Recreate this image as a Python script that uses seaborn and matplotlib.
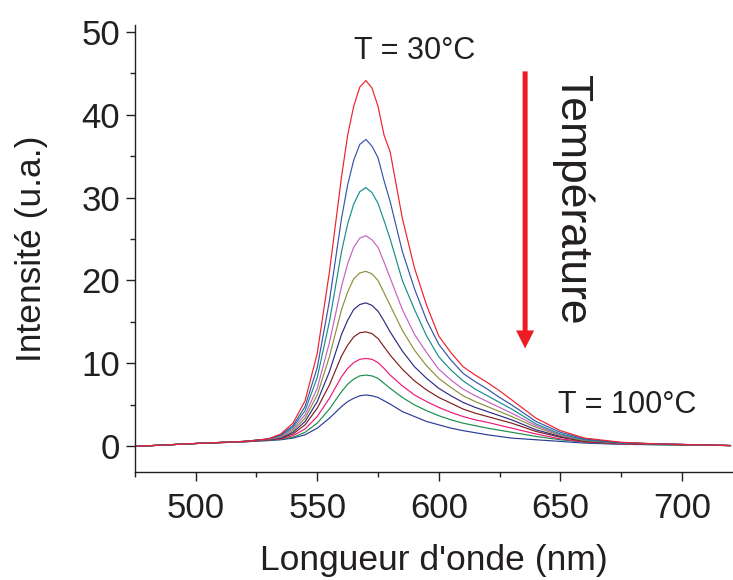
import matplotlib
matplotlib.use("Agg")
import matplotlib.pyplot as plt
import numpy as np
import pandas as pd
import seaborn as sns
from matplotlib.ticker import MultipleLocator

# wavelengths (nm) and intensities, 30 C -> 100 C
wavelength = [475, 500, 520, 530, 535, 540, 545, 550, 555, 560, 562.5, 565, 567.5, 570,
              572.5, 575, 577.5, 580, 585, 590, 595, 600, 605, 610, 615, 620, 625, 630,
              640, 650, 660, 675, 690, 705, 720]

red = [0.0, 0.35, 0.6, 0.9, 1.5, 2.8, 5.5, 11.2, 21.0, 32.5, 37.5, 41.0, 43.3, 44.1,
       43.2, 41.0, 37.5, 35.5, 27.5, 21.5, 17.0, 13.3, 11.3, 9.6, 8.6, 7.7, 6.7, 5.6,
       3.4, 1.9, 1.0, 0.5, 0.3, 0.2, 0.1]
blue = [0.0, 0.35, 0.6, 0.9, 1.4, 2.5, 4.8, 9.5, 17.5, 27.5, 31.5, 34.5, 36.4, 37.0,
        36.2, 34.8, 32.0, 29.5, 23.5, 19.0, 15.2, 12.3, 10.4, 8.8, 7.8, 6.9, 5.9, 5.0,
        3.0, 1.7, 0.9, 0.45, 0.3, 0.2, 0.1]
teal = [0.0, 0.35, 0.6, 0.9, 1.3, 2.3, 4.3, 8.3, 15.0, 23.5, 26.8, 29.2, 30.7, 31.2,
        30.6, 29.3, 27.2, 25.0, 20.0, 16.5, 13.3, 10.8, 9.2, 7.9, 6.9, 6.1, 5.3, 4.5,
        2.7, 1.5, 0.8, 0.4, 0.3, 0.2, 0.1]
magenta = [0.0, 0.35, 0.6, 0.9, 1.2, 2.1, 3.8, 7.0, 12.5, 19.3, 22.0, 24.0, 25.1, 25.4,
           24.9, 24.0, 22.2, 20.3, 16.5, 13.5, 11.3, 9.3, 8.0, 6.9, 6.1, 5.4, 4.7, 4.0,
           2.5, 1.4, 0.8, 0.4, 0.3, 0.2, 0.1]
olive = [0.0, 0.35, 0.6, 0.85, 1.1, 1.9, 3.4, 6.2, 10.8, 16.5, 18.6, 20.2, 20.9, 21.1,
         20.8, 20.0, 18.5, 17.0, 14.0, 11.6, 9.7, 8.2, 7.1, 6.1, 5.4, 4.8, 4.2, 3.6,
         2.3, 1.3, 0.7, 0.4, 0.3, 0.2, 0.1]
navy = [0.0, 0.35, 0.6, 0.85, 1.0, 1.7, 3.0, 5.4, 9.0, 13.5, 15.2, 16.5, 17.1, 17.3,
        17.0, 16.3, 15.1, 13.8, 11.5, 9.6, 8.2, 7.0, 6.1, 5.3, 4.7, 4.2, 3.7, 3.2,
        2.0, 1.2, 0.7, 0.4, 0.3, 0.2, 0.1]
maroon = [0.0, 0.35, 0.6, 0.8, 1.0, 1.5, 2.6, 4.6, 7.4, 10.9, 12.2, 13.2, 13.7, 13.8,
          13.6, 13.0, 12.0, 11.0, 9.3, 7.9, 6.8, 5.9, 5.2, 4.5, 4.0, 3.6, 3.2, 2.8,
          1.8, 1.1, 0.6, 0.35, 0.25, 0.2, 0.1]
pink = [0.0, 0.35, 0.55, 0.8, 0.9, 1.3, 2.1, 3.6, 5.8, 8.4, 9.4, 10.1, 10.5, 10.6,
        10.5, 10.1, 9.4, 8.6, 7.3, 6.2, 5.4, 4.7, 4.1, 3.6, 3.2, 2.9, 2.55, 2.2,
        1.5, 0.9, 0.55, 0.3, 0.25, 0.2, 0.1]
green = [0.0, 0.35, 0.55, 0.75, 0.85, 1.1, 1.7, 2.8, 4.5, 6.6, 7.5, 8.1, 8.5, 8.6,
         8.5, 8.2, 7.6, 7.0, 5.9, 5.0, 4.3, 3.7, 3.2, 2.8, 2.5, 2.2, 1.95, 1.7,
         1.2, 0.8, 0.5, 0.3, 0.2, 0.15, 0.1]
dkblue = [0.0, 0.35, 0.55, 0.7, 0.8, 1.0, 1.4, 2.2, 3.4, 4.8, 5.4, 5.8, 6.1, 6.2,
          6.1, 5.9, 5.5, 5.1, 4.2, 3.6, 3.0, 2.6, 2.2, 1.9, 1.65, 1.4, 1.2, 1.0,
          0.8, 0.6, 0.4, 0.25, 0.2, 0.15, 0.1]

series = {'red': red, 'blue': blue, 'teal': teal, 'magenta': magenta, 'olive': olive,
          'navy': navy, 'maroon': maroon, 'pink': pink, 'green': green, 'dkblue': dkblue}
colors = {'red': '#F0202A', 'blue': '#3555AA', 'teal': '#1A8C8C', 'magenta': '#C462C0',
          'olive': '#8E8E3E', 'navy': '#2C2C82', 'maroon': '#801C1C', 'pink': '#EE1878',
          'green': '#1C8C4C', 'dkblue': '#2A3C98'}

rows = []
for name, vals in series.items():
    for w, v in zip(wavelength, vals):
        rows.append({'wl': w, 'I': v, 'curve': name})
df = pd.DataFrame(rows)

sns.set_theme(style='ticks')
plt.rcParams['font.family'] = ['Liberation Sans', 'DejaVu Sans']
txt = '#231F20'

fig = plt.figure(figsize=(7.33, 5.8), dpi=100)
ax = fig.add_axes([0.184, 0.186, 0.816, 0.771])

# draw weakest first so the red one sits on top
order = list(series.keys())[::-1]
sns.lineplot(data=df, x='wl', y='I', hue='curve', hue_order=order, palette=colors,
             linewidth=0.85, legend=False, ax=ax)

ax.set_xlim(475, 721)
ax.set_ylim(-3.1, 50.8)
ax.xaxis.set_major_locator(MultipleLocator(50))
ax.xaxis.set_minor_locator(MultipleLocator(25))
ax.yaxis.set_major_locator(MultipleLocator(10))
ax.yaxis.set_minor_locator(MultipleLocator(5))
sns.despine(ax=ax)
for s in ['left', 'bottom']:
    ax.spines[s].set_linewidth(1.0)
    ax.spines[s].set_color(txt)
ax.tick_params(which='major', length=6.5, width=1.0, color=txt, labelsize=25,
               labelcolor=txt, pad=4)
ax.tick_params(axis='x', which='major', pad=7.5)
ax.tick_params(which='minor', length=3.6, width=1.0, color=txt)

ax.set_xlabel("Longueur d'onde (nm)", fontsize=25.5, color=txt, labelpad=14)
ax.set_ylabel('Intensité (u.a.)', fontsize=25.5, color=txt, labelpad=24)

ax.text(590.2, 47.6, 'T = 30°C', fontsize=22, color=txt, ha='center', va='center')
ax.text(677.5, 4.95, 'T = 100°C', fontsize=22, color=txt, ha='center', va='center')
ax.text(654.8, 29.7, 'Température', fontsize=32, color=txt, ha='center', va='center',
        rotation=270)
ax.annotate('', xy=(635.5, 11.8), xytext=(635.5, 45.2),
            arrowprops=dict(width=3.6, headwidth=13, headlength=13, shrink=0,
                            color='#ED1C24', lw=0))

fig.savefig('out.png', dpi=100)
